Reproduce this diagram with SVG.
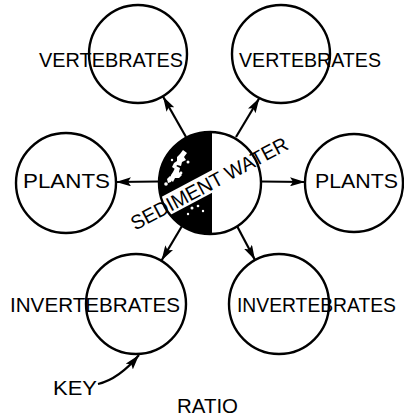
<svg xmlns="http://www.w3.org/2000/svg" width="404" height="420" viewBox="0 0 404 420">
<style>
.ring{fill:none;stroke:#000;stroke-width:2.4}
.lbl{font-family:"Liberation Sans",Arial,sans-serif;font-size:21px;fill:#000}
.con{stroke:#000;stroke-width:2.2;fill:none}
</style>
<defs>
<marker id="ah" viewBox="0 0 15 9" refX="15" refY="4.5" markerWidth="15" markerHeight="9" markerUnits="userSpaceOnUse" orient="auto"><path d="M0,0 L15,4.5 L0,9 L3,4.5 z" fill="#000"/></marker>
<clipPath id="cc"><circle cx="210" cy="183" r="51"/></clipPath>
</defs>
<rect width="404" height="420" fill="#fff"/>
<g id="center">
<path d="M212,132.04 A51,51 0 1 0 212,233.96 Z" fill="#000"/>
<g fill="#fff">
<path d="M183,150 l4,3 -3,4 2,3 -4,2 -1,4 -4,-1 -2,4 -3,-2 2,-4 3,-2 0,-4 3,-3 z"/>
<path d="M176,166 l4,2 -1,4 3,3 -3,3 -4,0 -2,4 -3,-3 1,-4 2,-3 z"/>
<path d="M170,176 l3,2 -2,4 -3,1 -1,-4 z"/>
<circle cx="166" cy="184" r="1.8"/><circle cx="188" cy="162" r="1.5"/><circle cx="181" cy="173" r="1.4"/><circle cx="172" cy="160" r="1.2"/>
<circle cx="192" cy="208" r="1.5"/><circle cx="198" cy="206" r="1.3"/><circle cx="203" cy="211" r="1.2"/><circle cx="188" cy="214" r="1.2"/>
</g>
<rect x="110" y="173" width="200" height="20" fill="#fff" clip-path="url(#cc)" transform="rotate(-28 209 183)"/>
<circle class="ring" cx="210" cy="183" r="51"/>
<text class="lbl" style="font-size:20px" x="209" y="190.5" text-anchor="middle" transform="rotate(-28 209 183)" textLength="175" lengthAdjust="spacingAndGlyphs">SEDIMENT WATER</text>
</g>
<g id="vert-left"><circle class="ring" cx="138" cy="54" r="49"/><text class="lbl" x="39" y="67" textLength="144" lengthAdjust="spacingAndGlyphs">VERTEBRATES</text></g>
<g id="vert-right"><circle class="ring" cx="281" cy="54" r="49"/><text class="lbl" x="239" y="67" textLength="142" lengthAdjust="spacingAndGlyphs">VERTEBRATES</text></g>
<g id="plants-left"><circle class="ring" cx="66" cy="183" r="50"/><text class="lbl" x="23" y="188" textLength="87" lengthAdjust="spacingAndGlyphs">PLANTS</text></g>
<g id="plants-right"><circle class="ring" cx="354" cy="183" r="49"/><text class="lbl" x="315" y="188" textLength="83" lengthAdjust="spacingAndGlyphs">PLANTS</text></g>
<g id="invert-left"><circle class="ring" cx="136" cy="304" r="50"/><text class="lbl" x="10" y="312" textLength="170" lengthAdjust="spacingAndGlyphs">INVERTEBRATES</text></g>
<g id="invert-right"><circle class="ring" cx="279" cy="304" r="50"/><text class="lbl" x="237" y="312" textLength="159" lengthAdjust="spacingAndGlyphs">INVERTEBRATES</text></g>
<g id="key"><text class="lbl" x="53" y="395" textLength="44" lengthAdjust="spacingAndGlyphs">KEY</text></g>
<g id="ratio"><text class="lbl" x="177" y="413" textLength="61" lengthAdjust="spacingAndGlyphs">RATIO</text></g>
<g id="connectors">
<line class="con" x1="186" y1="137" x2="163" y2="96.5" marker-end="url(#ah)"/>
<line class="con" x1="236" y1="137" x2="259.4" y2="98" marker-end="url(#ah)"/>
<line class="con" x1="159" y1="181.5" x2="116" y2="182" marker-end="url(#ah)"/>
<line class="con" x1="261" y1="181.5" x2="305" y2="182" marker-end="url(#ah)"/>
<line class="con" x1="182" y1="226" x2="161.5" y2="260.5" marker-end="url(#ah)"/>
<line class="con" x1="237" y1="226" x2="255" y2="260" marker-end="url(#ah)"/>
<path class="con" d="M98,384 Q119,379 139,355" marker-end="url(#ah)"/>
</g>
</svg>
